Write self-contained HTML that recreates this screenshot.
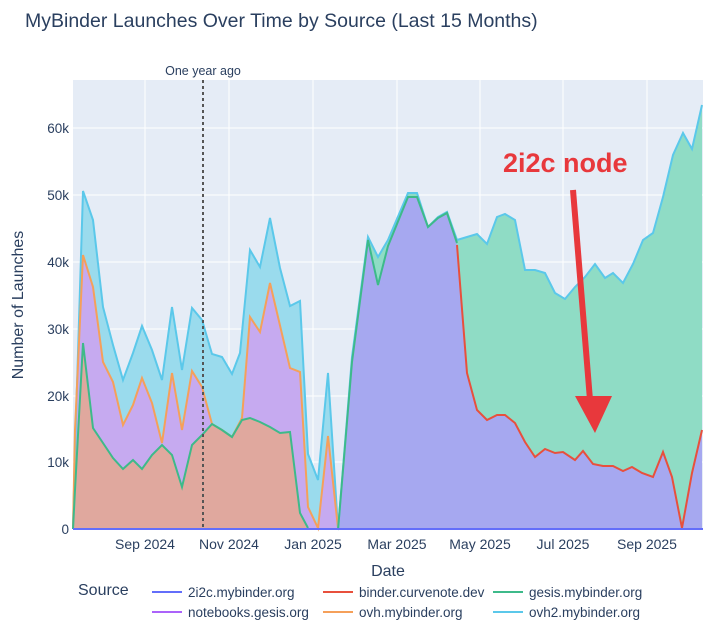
<!DOCTYPE html><html><head><style>body{margin:0;background:#fff}svg text{font-family:"Liberation Sans",sans-serif}</style></head><body>
<svg width="720" height="637" viewBox="0 0 720 637" xmlns="http://www.w3.org/2000/svg">
<text x="25" y="27" font-size="19.5" fill="#2a3f5f">MyBinder Launches Over Time by Source (Last 15 Months)</text>
<rect x="73" y="80" width="630" height="450" fill="#e5ecf6"/>
<g stroke="#fff" stroke-width="1">
<line x1="73" x2="703" y1="462" y2="462"/><line x1="73" x2="703" y1="396" y2="396"/><line x1="73" x2="703" y1="329" y2="329"/><line x1="73" x2="703" y1="262" y2="262"/><line x1="73" x2="703" y1="195" y2="195"/><line x1="73" x2="703" y1="128" y2="128"/>
<line x1="145" x2="145" y1="80" y2="530"/><line x1="229" x2="229" y1="80" y2="530"/><line x1="313" x2="313" y1="80" y2="530"/><line x1="397" x2="397" y1="80" y2="530"/><line x1="480" x2="480" y1="80" y2="530"/><line x1="563" x2="563" y1="80" y2="530"/><line x1="647" x2="647" y1="80" y2="530"/>
</g>
<polygon fill="#9adbed" points="73,529 75,450 83,191 93,220 103,307 113,345 123,380 133,353 142,326 152,350 162,380 172,307 182,370 192,308 202,320 212,354 222,357 232,374 240,353 250,250 260,267 270,218 280,268 290,306 300,301 308,454 318,480 328,373 338,528"/>
<polygon fill="#c6aaf0" points="73,529 75,430 83,255 93,287 103,362 113,382 123,425 133,405 142,378 152,403 162,443 172,373 182,430 192,371 202,387 212,424 222,430 232,437 242,418 250,317 260,332 270,283 290,368 300,372 308,507 318,528 328,436 338,528"/>
<polygon fill="#e0a89e" points="73,529 75,490 83,343 93,428 103,443 113,458 123,469 133,460 142,469 152,455 162,445 172,455 182,487 192,445 202,435 212,424 222,430 232,437 242,420 250,418 260,422 270,427 280,433 290,432 300,513 308,528"/>
<polyline fill="none" stroke="#5bc8ea" stroke-width="2" points="73,529 75,450 83,191 93,220 103,307 113,345 123,380 133,353 142,326 152,350 162,380 172,307 182,370 192,308 202,320 212,354 222,357 232,374 240,353 250,250 260,267 270,218 280,268 290,306 300,301 308,454 318,480 328,373 338,528"/>
<polyline fill="none" stroke="#f5a05a" stroke-width="2" points="73,529 75,430 83,255 93,287 103,362 113,382 123,425 133,405 142,378 152,403 162,443 172,373 182,430 192,371 202,387 212,424 222,430 232,437 242,418 250,317 260,332 270,283 290,368 300,372 308,507 318,528 328,436 338,528"/>
<polyline fill="none" stroke="#3dba8a" stroke-width="2" points="73,529 75,490 83,343 93,428 103,443 113,458 123,469 133,460 142,469 152,455 162,445 172,455 182,487 192,445 202,435 212,424 222,430 232,437 242,420 250,418 260,422 270,427 280,433 290,432 300,513 308,528"/>
<polygon fill="#8fdcc5" points="338,530 352,357 368,237 378,257 388,240 408,193 417,193 428,227 438,217 447,212 457,240 467,237 477,234 487,244 497,217 505,214 515,220 525,270 535,270 545,273 555,293 565,299 575,287 585,277 595,264 605,278 613,273 623,283 633,264 643,240 653,233 663,197 673,155 683,133 692,149 702,105 702,530"/>
<polygon fill="#a6a8f0" points="338,530 352,363 368,240 378,287 388,247 408,197 417,198 428,227 438,218 447,213 457,245 467,373 477,410 487,420 497,415 505,415 515,423 525,442 535,457 545,449 555,453 563,452 575,460 583,451 593,464 603,466 613,466 623,471 632,467 642,473 653,477 663,452 672,477 682,528 692,473 702,430 702,530"/>
<polyline fill="none" stroke="#5bc8ea" stroke-width="2" points="338,530 352,357 368,237 378,257 388,240 408,193 417,193 428,227 438,217 447,212 457,240 467,237 477,234 487,244 497,217 505,214 515,220 525,270 535,270 545,273 555,293 565,299 575,287 585,277 595,264 605,278 613,273 623,283 633,264 643,240 653,233 663,197 673,155 683,133 692,149 702,105"/>
<polyline fill="none" stroke="#3dba8a" stroke-width="2" points="338,530 352,362 368,240 378,285 388,246 408,197 417,197 428,227 438,218 447,213 457,243"/>
<polyline fill="none" stroke="#e8503c" stroke-width="2" points="457,245 467,373 477,410 487,420 497,415 505,415 515,423 525,442 535,457 545,449 555,453 563,452 575,460 583,451 593,464 603,466 613,466 623,471 632,467 642,473 653,477 663,452 672,477 682,528 692,473 702,430"/>
<line x1="73" x2="703" y1="529" y2="529" stroke="#636efa" stroke-width="2"/>
<line x1="203" x2="203" y1="80" y2="530" stroke="#555" stroke-width="2" stroke-dasharray="3,3"/>
<text x="203" y="75" font-size="12.5" fill="#2a3f5f" text-anchor="middle">One year ago</text>
<text x="503" y="172" font-size="27" font-weight="bold" fill="#e8383c">2i2c node</text>
<line x1="573" y1="190" x2="590" y2="400" stroke="#e8383c" stroke-width="6"/>
<polygon points="575,396 612,396 595,433" fill="#e8383c"/>
<g font-size="13.5" fill="#2a3f5f" text-anchor="end">
<text x="69" y="534">0</text><text x="69" y="467">10k</text><text x="69" y="401">20k</text><text x="69" y="334">30k</text><text x="69" y="267">40k</text><text x="69" y="200">50k</text><text x="69" y="133">60k</text></g>
<g font-size="14" fill="#2a3f5f" text-anchor="middle">
<text x="145" y="549">Sep 2024</text><text x="229" y="549">Nov 2024</text><text x="313" y="549">Jan 2025</text><text x="397" y="549">Mar 2025</text><text x="480" y="549">May 2025</text><text x="563" y="549">Jul 2025</text><text x="647" y="549">Sep 2025</text></g>
<text x="388" y="576" font-size="16" fill="#2a3f5f" text-anchor="middle">Date</text>
<text transform="translate(23,305) rotate(-90)" font-size="16" fill="#2a3f5f" text-anchor="middle">Number of Launches</text>
<text x="78" y="595" font-size="16" fill="#2a3f5f">Source</text>
<g font-size="13.5" fill="#2a3f5f">
<line x1="152" x2="182" y1="592" y2="592" stroke="#636efa" stroke-width="2"/><text x="188" y="597">2i2c.mybinder.org</text>
<line x1="323" x2="353" y1="592" y2="592" stroke="#e8503c" stroke-width="2"/><text x="359" y="597">binder.curvenote.dev</text>
<line x1="493" x2="523" y1="592" y2="592" stroke="#3dba8a" stroke-width="2"/><text x="529" y="597">gesis.mybinder.org</text>
<line x1="152" x2="182" y1="612" y2="612" stroke="#ab63fa" stroke-width="2"/><text x="188" y="617">notebooks.gesis.org</text>
<line x1="323" x2="353" y1="612" y2="612" stroke="#f5a05a" stroke-width="2"/><text x="359" y="617">ovh.mybinder.org</text>
<line x1="493" x2="523" y1="612" y2="612" stroke="#5bc8ea" stroke-width="2"/><text x="529" y="617">ovh2.mybinder.org</text>
</g>
</svg></body></html>
